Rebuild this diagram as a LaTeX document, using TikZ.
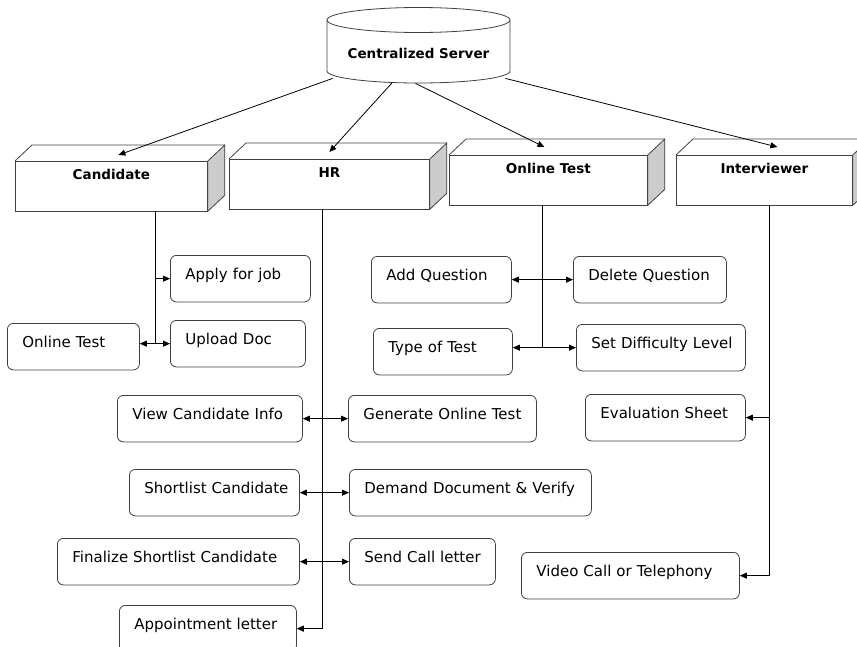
\documentclass[tikz,border=0pt]{standalone}
\usepackage{fontspec}
\setmainfont{DejaVu Sans}
\usetikzlibrary{arrows.meta}

\begin{document}
\begin{tikzpicture}[x=1pt,y=-1pt,line width=0.8pt,>={Triangle[length=7pt,width=6pt]}]
    \tikzset{rounded/.style={draw=black!75,rectangle,rounded corners=6pt,inner sep=0pt,anchor=north west,align=left,text width=#1,text height=24pt,text depth=22.5pt,font=\fontsize{15}{18}\selectfont,execute at begin node={\hspace*{15pt}}}}
    \tikzset{block/.style={draw=black!75,fill=white,rectangle,inner sep=0pt,anchor=north west,minimum width=#1,text height=18.5pt,text depth=31pt,font=\bfseries\fontsize{13.5}{16}\selectfont}}
    \useasboundingbox (0,0) rectangle (857,646);
    % server drum
    \draw[black!75,fill=white] (327,20) -- (327,71) arc[start angle=180,end angle=0,x radius=91.5,y radius=12] -- (510,20);
    \draw[black!75,fill=white] (418.5,20) ellipse[x radius=91.5,y radius=12.5];
    \node[inner sep=0pt,minimum width=183pt,text height=51.5pt,text depth=19.5pt,font=\bfseries\fontsize{13.5}{16}\selectfont] (server) at (418.5,42.5) {Centralized Server};
    % modules
    \node[block=192pt] (cand) at (15,161) {Candidate};
    \node[block=200pt] (hr) at (229,159) {HR};
    \node[block=198pt] (test) at (449,155) {Online Test};
    \node[block=176pt] (intv) at (676,155) {Interviewer};
    \foreach \b in {cand,hr,test,intv} {
      \draw[black!75,fill=gray!40] (\b.north east) -- ++(17,-16) -- ([shift={(17,-16)}]\b.south east) -- (\b.south east) -- cycle;
      \draw[black!75] (\b.north west) -- ++(17,-16) -- ([shift={(17,-16)}]\b.north east);
    }
    % tasks
    \node[rounded=140pt] (apply) at (170,255) {Apply for job};
    \node[rounded=135pt] (upload) at (170,320) {Upload Doc};
    \node[rounded=132pt] (otest) at (7,323) {Online Test};
    \node[rounded=185pt] (viewc) at (117,395) {View Candidate Info};
    \node[rounded=188pt] (gen) at (348,395) {Generate Online Test};
    \node[rounded=170pt] (short) at (129,469) {Shortlist Candidate};
    \node[rounded=242pt] (demand) at (349,469) {Demand Document \& Verify};
    \node[rounded=242pt] (final) at (57,538) {Finalize Shortlist Candidate};
    \node[rounded=146pt] (sendc) at (349,538) {Send Call letter};
    \node[rounded=177pt] (appt) at (119,605) {Appointment letter};
    \node[rounded=140pt] (addq) at (371,256) {Add Question};
    \node[rounded=139pt] (typet) at (373,328) {Type of Test};
    \node[rounded=153pt] (delq) at (573,256) {Delete Question};
    \node[rounded=169pt] (setdl) at (576,324) {Set Difficulty Level};
    \node[rounded=160pt] (evals) at (585,394) {Evaluation Sheet};
    \node[rounded=218pt] (video) at (521,552) {Video Call or Telephony};
    % server to modules
    \path[->]
    ([xshift=6pt]server.south west) edge ([shift={(7pt,6pt)}]cand.north)
    ([shift={(-26.5pt,-4.5pt)}]server.south) edge ([yshift=7pt]hr.north)
    ([shift={(-3pt,-5pt)}]server.south) edge ([shift={(-4pt,8pt)}]test.north)
    ([xshift=-5pt]server.south east) edge ([shift={(13pt,8pt)}]intv.north)
    ;
    % trunks
    \coordinate (cx) at ([xshift=44pt]cand.south);
    \coordinate (hx) at ([xshift=-7pt]hr.south);
    \coordinate (tx) at ([xshift=-6pt]test.south);
    \coordinate (ix) at ([xshift=5pt]intv.south);
    \draw (cx) -- (cx |- upload.west);
    \draw[->] (cx |- apply.west) -- (apply.west);
    \draw[<->] (otest.east |- upload.west) -- (upload.west);
    \draw[->] (hx) |- (appt.east);
    \path[<->]
    (viewc) edge (gen)
    (short) edge (demand)
    (final) edge (sendc)
    (addq) edge (delq)
    ;
    \draw (tx) -- (tx |- setdl.west);
    \draw[<->] (typet.east |- setdl.west) -- (setdl.west);
    \draw[->] (ix) |- (video.east);
    \draw[->] (ix |- evals.east) -- (evals.east);
\end{tikzpicture}
\end{document}
